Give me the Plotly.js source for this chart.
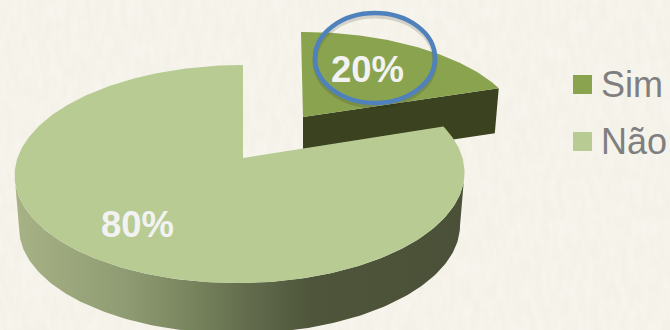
<!DOCTYPE html>
<html>
<head>
<meta charset="utf-8">
<script src="https://cdn.plot.ly/plotly-3.0.1.min.js"></script>
<style>
html,body{margin:0;padding:0;background:#f4f1e8;overflow:hidden}
#chart{width:670px;height:330px;position:relative}
#grain{position:absolute;left:0;top:0;width:670px;height:330px}
#plot{position:absolute;left:0;top:0;width:670px;height:330px}
</style>
</head>
<body>
<div id="chart">
<svg id="grain" xmlns="http://www.w3.org/2000/svg">
  <filter id="paper" x="0" y="0" width="100%" height="100%">
    <feTurbulence type="fractalNoise" baseFrequency="0.14 0.05" numOctaves="3" seed="7"/>
    <feColorMatrix type="matrix" values="0 0 0 0 1  0 0 0 0 1  0 0 0 0 0.97  1.2 0 0 0 -0.35"/>
  </filter>
  <rect width="670" height="330" filter="url(#paper)" opacity="0.45"/>
</svg>
<div id="plot"></div>
</div>
<script>
// Survey answers, in percent
const categories = ['Sim', 'Não'];
const shares = [20, 80];
const sliceColors = ['#8aa34f', '#b7cb93'];
const legendColors = ['#8aa34f', '#b7cb93'];

// Perspective disc: the hub sits above the ellipse centre because the far rim recedes
const hub = {x: 243, y: 158};
const radiusX = 222.5, radiusY = 106.7, perspective = 0.147;
// Lower rim of the disc
const rimDrop = 53, rimScale = 0.98;
// Pulled-out slice: its own hub and foreshortening
const pulledHub = {x: 303, y: 117};
const pulledScaleX = 0.97, pulledScaleY = 0.915, pulledDrop = 45;

function point(deg, o) {
  const a = deg * Math.PI / 180;
  const X = Math.sin(a), Y = -Math.cos(a), w = 1 / (1 - perspective * Y);
  return [o.x + radiusX * X * w * o.kx + o.lean * (1 + Y) + o.tilt * Y,
          o.y + radiusY * Y * w * o.ky];
}
function arc(from, to, o) {
  const pts = [], n = Math.max(2, Math.ceil(Math.abs(to - from)));
  for (let i = 0; i <= n; i++) pts.push(point(from + (to - from) * i / n, o));
  return pts;
}
function polygon(pts, extra, name) {
  return Object.assign({
    type: 'scatter', mode: 'lines', fill: 'toself',
    x: pts.map(p => p[0]), y: pts.map(p => p[1]),
    line: {width: 0}, hoverinfo: 'skip', showlegend: false, name: name
  }, extra);
}
// Angle of the disc's widest point on either side, where the side wall meets the silhouette
function widest(from, to, sign, o) {
  let best = from;
  for (let d = from; d <= to; d += 0.25) {
    if (sign * point(d, o)[0] > sign * point(best, o)[0]) best = d;
  }
  return best;
}

const total = shares.reduce((a, b) => a + b, 0);
const splitAngle = 360 * shares[0] / total;

const topBig = {x: hub.x, y: hub.y, kx: 1, ky: 1, lean: -3, tilt: 0};
const lowBig = {x: hub.x, y: hub.y + rimDrop, kx: rimScale, ky: rimScale, lean: -3, tilt: 0};
const topPulled = {x: pulledHub.x, y: pulledHub.y, kx: pulledScaleX, ky: pulledScaleY, lean: 0, tilt: 2};
const lowPulled = {x: pulledHub.x, y: pulledHub.y + pulledDrop, kx: pulledScaleX * 0.98, ky: pulledScaleY, lean: 0, tilt: 2};

// Side wall of the large slice, lit from the left
const wallStart = widest(splitAngle, 180, 1, topBig);
const wallEnd = widest(180, 360, -1, topBig);
const bigWall = arc(wallStart, wallEnd, topBig).concat(arc(wallEnd, wallStart, lowBig));
const bigTop = [[hub.x, hub.y]].concat(arc(splitAngle, 360, topBig));

// Cut face of the pulled-out slice
const endTop = point(splitAngle, topPulled);
const endLow = point(splitAngle, lowPulled);
const pulledWall = [[pulledHub.x, pulledHub.y], endTop, endLow, [pulledHub.x, pulledHub.y + pulledDrop]];
const pulledTop = [[pulledHub.x, pulledHub.y]].concat(arc(0, splitAngle, topPulled));

const wallLeft = 14, wallRight = 465;
const traces = [
  polygon(pulledWall, {fillcolor: '#3a421f'}, 'Sim wall'),
  polygon(pulledTop, {fillcolor: sliceColors[0]}, categories[0]),
  polygon(bigWall, {
    fillcolor: '#7b8660',
    fillgradient: {
      type: 'horizontal', start: wallLeft, stop: wallRight,
      colorscale: [[0, '#a7b285'], [0.25, '#8f9b72'], [0.4, '#77835c'], [0.52, '#626c4d'], [0.66, '#4e553a'], [1, '#4b5138']]
    }
  }, 'Não wall'),
  polygon(bigTop, {fillcolor: sliceColors[1]}, categories[1]),
  // Legend keys
  {
    type: 'scatter', mode: 'markers', x: [582.5, 582.5], y: [84.5, 141.5],
    marker: {symbol: 'square', size: 19, color: legendColors, line: {width: 0}},
    hoverinfo: 'skip', showlegend: false
  }
];

const labelFont = {family: 'Liberation Sans, Arial, sans-serif', size: 36.5, color: '#f2f2f2'};
const legendFont = {family: 'Liberation Sans, Arial, sans-serif', size: 36, color: '#7f7f7f'};
const annotations = [
  {x: 367.5, y: 69, text: '<b>' + shares[0] + '%</b>', showarrow: false, font: labelFont, xanchor: 'center', yanchor: 'middle'},
  {x: 137.5, y: 224, text: '<b>' + shares[1] + '%</b>', showarrow: false, font: labelFont, xanchor: 'center', yanchor: 'middle'},
  {x: 599, y: 84.5, text: categories[0], showarrow: false, font: legendFont, xanchor: 'left', yanchor: 'middle'},
  {x: 599, y: 141.5, text: categories[1], showarrow: false, font: legendFont, xanchor: 'left', yanchor: 'middle'}
];

// Highlight ring round the pulled-out slice, with a soft shadow under it
const ring = {x0: 315, x1: 435, y0: 13, y1: 103};
const shapes = [
  {type: 'circle', xref: 'x', yref: 'y', x0: ring.x0, x1: ring.x1, y0: ring.y0 + 3, y1: ring.y1 + 3,
   line: {color: 'rgba(40,40,30,0.16)', width: 5}, fillcolor: 'rgba(0,0,0,0)'},
  {type: 'circle', xref: 'x', yref: 'y', x0: ring.x0, x1: ring.x1, y0: ring.y0, y1: ring.y1,
   line: {color: '#4f81bd', width: 4.5}, fillcolor: 'rgba(0,0,0,0)'}
];

const hidden = {visible: false, fixedrange: true};
Plotly.newPlot('plot', traces, {
  width: 670, height: 330, showlegend: false,
  margin: {l: 0, r: 0, t: 0, b: 0},
  paper_bgcolor: 'rgba(0,0,0,0)', plot_bgcolor: 'rgba(0,0,0,0)',
  xaxis: Object.assign({range: [0, 670]}, hidden),
  yaxis: Object.assign({range: [330, 0]}, hidden),
  annotations: annotations, shapes: shapes
}, {displayModeBar: false, staticPlot: true});
</script>
</body>
</html>
